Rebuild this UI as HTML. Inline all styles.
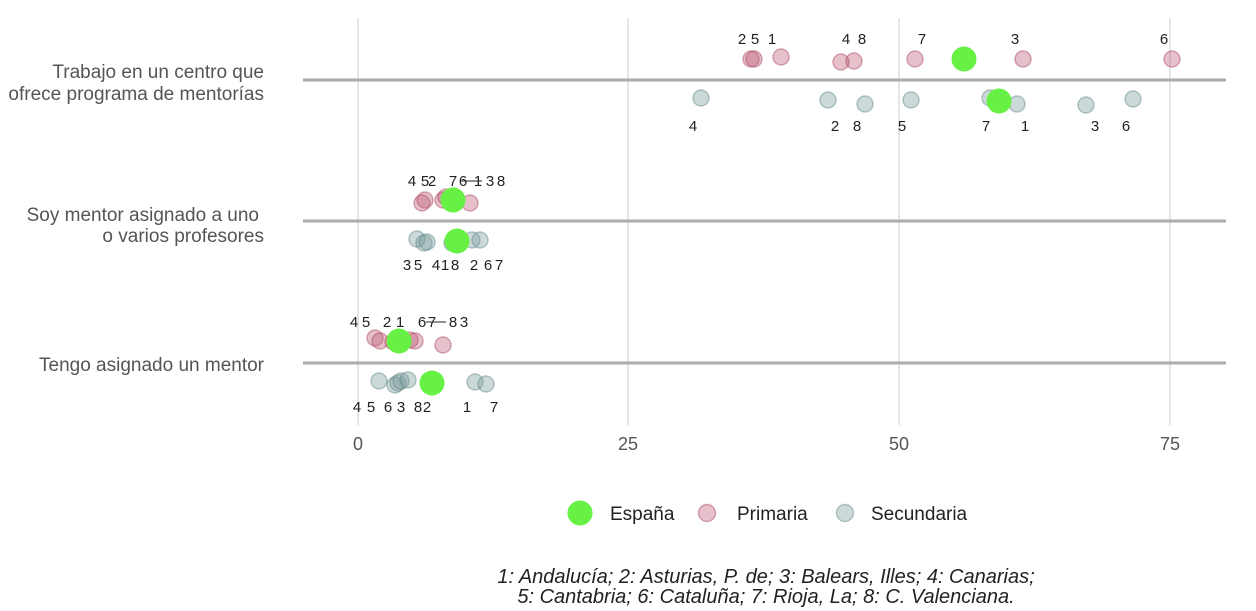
<!DOCTYPE html>
<html><head><meta charset="utf-8"><style>
html,body{margin:0;padding:0;background:#fff}
svg{display:block;font-family:"Liberation Sans",sans-serif}
</style></head><body>
<svg width="1256" height="611" viewBox="0 0 1256 611">
<g stroke="#e6e6e6" stroke-width="2">
<line x1="358" y1="18" x2="358" y2="425"/><line x1="628" y1="18" x2="628" y2="425"/>
<line x1="899" y1="18" x2="899" y2="425"/><line x1="1170" y1="18" x2="1170" y2="425"/>
</g>
<g stroke="#a9aeae" stroke-width="3">
<line x1="303" y1="80" x2="1226" y2="80"/><line x1="303" y1="221" x2="1226" y2="221"/><line x1="303" y1="363" x2="1226" y2="363"/>
</g>
<g font-size="19" fill="#555" text-anchor="end">
<text x="264" y="78">Trabajo en un centro que</text>
<text x="264" y="100">ofrece programa de mentorías</text>
<text x="259" y="221">Soy mentor asignado a uno</text>
<text x="264" y="242">o varios profesores</text>
<text x="264" y="371">Tengo asignado un mentor</text>
</g>
<g font-size="18" fill="#555" text-anchor="middle">
<text x="358" y="450">0</text><text x="628" y="450">25</text><text x="899" y="450">50</text><text x="1170" y="450">75</text>
</g>
<g fill="rgba(190,90,115,0.38)" stroke="rgba(170,70,95,0.45)" stroke-width="1.5">
<circle cx="751" cy="59" r="8"/><circle cx="754" cy="59" r="8"/><circle cx="781" cy="57" r="8"/><circle cx="841" cy="62" r="8"/><circle cx="854" cy="61" r="8"/><circle cx="915" cy="59" r="8"/><circle cx="1023" cy="59" r="8"/><circle cx="1172" cy="59" r="8"/>
<circle cx="422" cy="203" r="8"/><circle cx="425" cy="200" r="8"/><circle cx="443" cy="200" r="8"/><circle cx="446" cy="197" r="8"/><circle cx="451" cy="203" r="8"/><circle cx="470" cy="203" r="8"/>
<circle cx="375" cy="338" r="8"/><circle cx="380" cy="341" r="8"/><circle cx="393" cy="342" r="8"/><circle cx="410" cy="340" r="8"/><circle cx="415" cy="341" r="8"/><circle cx="443" cy="345" r="8"/>
</g>
<g fill="rgba(120,155,155,0.38)" stroke="rgba(100,135,135,0.45)" stroke-width="1.5">
<circle cx="701" cy="98" r="8"/><circle cx="828" cy="100" r="8"/><circle cx="865" cy="104" r="8"/><circle cx="911" cy="100" r="8"/><circle cx="990" cy="98" r="8"/><circle cx="1017" cy="104" r="8"/><circle cx="1086" cy="105" r="8"/><circle cx="1133" cy="99" r="8"/>
<circle cx="417" cy="239" r="8"/><circle cx="424" cy="243" r="8"/><circle cx="427" cy="242" r="8"/><circle cx="452" cy="243" r="8"/><circle cx="455" cy="241" r="8"/><circle cx="472" cy="240" r="8"/><circle cx="480" cy="240" r="8"/>
<circle cx="379" cy="381" r="8"/><circle cx="395" cy="385" r="8"/><circle cx="398" cy="383" r="8"/><circle cx="401" cy="381" r="8"/><circle cx="408" cy="380" r="8"/><circle cx="475" cy="382" r="8"/><circle cx="486" cy="384" r="8"/>
</g>
<g fill="#66f144">
<circle cx="964" cy="59" r="12.5"/><circle cx="999" cy="101" r="12.5"/>
<circle cx="453" cy="200" r="12.5"/><circle cx="457" cy="241" r="12.5"/>
<circle cx="399" cy="341" r="12.5"/><circle cx="432" cy="383" r="12.5"/>
</g>
<g font-size="15" fill="#222" text-anchor="middle">
<text x="742" y="44">2</text><text x="755" y="44">5</text><text x="772" y="44">1</text><text x="846" y="44">4</text><text x="862" y="44">8</text><text x="922" y="44">7</text><text x="1015" y="44">3</text><text x="1164" y="44">6</text>
<text x="693" y="131">4</text><text x="835" y="131">2</text><text x="857" y="131">8</text><text x="902" y="131">5</text><text x="986" y="131">7</text><text x="1025" y="131">1</text><text x="1095" y="131">3</text><text x="1126" y="131">6</text>
<text x="412" y="186">4</text><text x="425" y="186">5</text><text x="432" y="186">2</text><text x="453" y="186">7</text><text x="463" y="186">6</text><text x="478" y="186">1</text><text x="490" y="186">3</text><text x="501" y="186">8</text>
<text x="407" y="270">3</text><text x="418" y="270">5</text><text x="436" y="270">4</text><text x="445" y="270">1</text><text x="455" y="270">8</text><text x="474" y="270">2</text><text x="488" y="270">6</text><text x="499" y="270">7</text>
<text x="354" y="327">4</text><text x="366" y="327">5</text><text x="387" y="327">2</text><text x="400" y="327">1</text><text x="422" y="327">6</text><text x="432" y="327">7</text><text x="453" y="327">8</text><text x="464" y="327">3</text>
<text x="357" y="412">4</text><text x="371" y="412">5</text><text x="388" y="412">6</text><text x="401" y="412">3</text><text x="418" y="412">8</text><text x="427" y="412">2</text><text x="467" y="412">1</text><text x="494" y="412">7</text>
</g>
<g stroke="#222" stroke-width="1"><line x1="462" y1="181" x2="482" y2="181"/><line x1="426" y1="322" x2="446" y2="322"/></g>
<circle cx="580" cy="513" r="12.5" fill="#66f144"/>
<circle cx="707" cy="513" r="8.5" fill="rgba(190,90,115,0.38)" stroke="rgba(170,70,95,0.45)" stroke-width="1.5"/>
<circle cx="845" cy="513" r="8.5" fill="rgba(120,155,155,0.38)" stroke="rgba(100,135,135,0.45)" stroke-width="1.5"/>
<g font-size="19" fill="#222">
<text x="610" y="520">España</text><text x="737" y="520">Primaria</text><text x="871" y="520">Secundaria</text>
</g>
<g font-size="20" fill="#222" font-style="italic" text-anchor="middle">
<text x="766" y="583">1: Andalucía; 2: Asturias, P. de; 3: Balears, Illes; 4: Canarias;</text>
<text x="766" y="603">5: Cantabria; 6: Cataluña; 7: Rioja, La; 8: C. Valenciana.</text>
</g>
</svg>
</body></html>
